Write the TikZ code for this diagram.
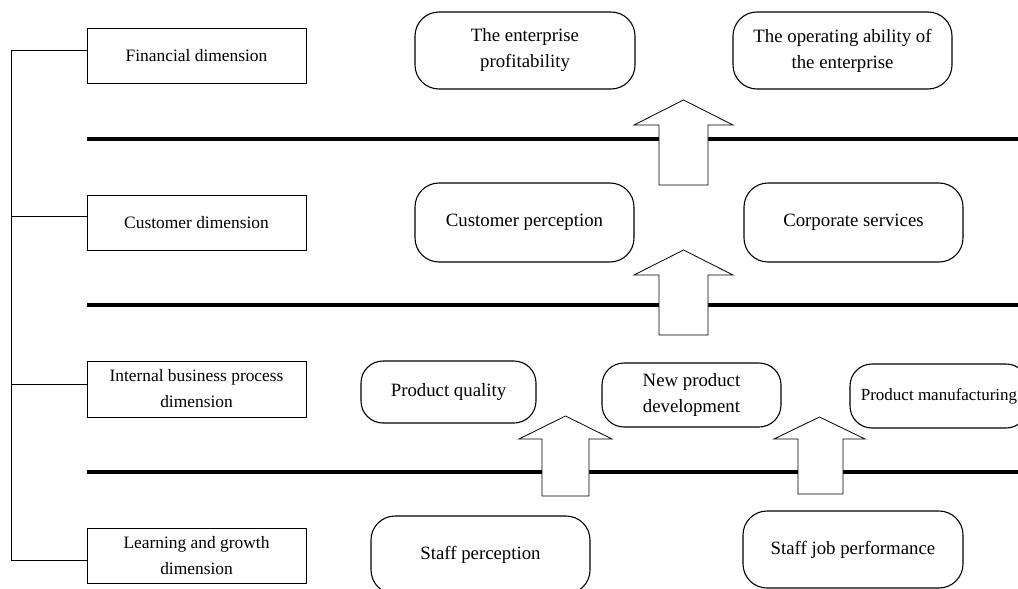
\documentclass[tikz,border=0pt]{standalone}
\usepackage{fontspec}
\setmainfont{Liberation Serif}
\begin{document}
\begin{tikzpicture}[x=1pt,y=-1pt]
\tikzset{
  dimbox/.style={draw, line width=0.8pt, minimum width=219pt, minimum height=55pt, inner sep=0pt, align=center, font=\fontsize{17.4}{26}\selectfont},
  rbox/.style={draw, line width=1.1pt, rounded corners=24pt, inner sep=0pt, align=center, font=\fontsize{18.8}{26}\selectfont},
  divider/.style={line width=4pt},
  treeline/.style={line width=0.8pt},
  blockarr/.style={draw, fill=white, line width=0.8pt}
}
\useasboundingbox (0,0) rectangle (1018,589);

% left dimension boxes
\node[dimbox] (fin)   at (196.5,55.5) {Financial dimension};
\node[dimbox] (cust)  at (196.5,222.5) {Customer dimension};
\node[dimbox, minimum height=56pt] (int) at (196.5,389) {Internal business process\\dimension};
\node[dimbox] (learn) at (196.5,555.5) {Learning and growth\\dimension};

% tree
\coordinate (t1) at (11,50);
\coordinate (t2) at (11,216);
\coordinate (t3) at (11,384);
\coordinate (t4) at (11,560);
\draw[treeline] (t1) -- (t4);
\draw[treeline] (t1) -- (t1 -| fin.west);
\draw[treeline] (t2) -- (t2 -| cust.west);
\draw[treeline] (t3) -- (t3 -| int.west);
\draw[treeline] (t4) -- (t4 -| learn.west);

% dividers
\coordinate (d1a) at (87,139);  \coordinate (d1b) at (1020,139);
\coordinate (d2a) at (87,305);  \coordinate (d2b) at (1020,305);
\coordinate (d3a) at (87,472);  \coordinate (d3b) at (1020,472);
\draw[divider] (d1a) -- (d1b);
\draw[divider] (d2a) -- (d2b);
\draw[divider] (d3a) -- (d3b);

% block arrows
\draw[blockarr] (659,185) -- (659,125) -- (634,125) -- (683.5,100) -- (733,125) -- (708,125) -- (708,185) -- cycle;
\draw[blockarr] (659,335) -- (659,275) -- (634,275) -- (683.5,250) -- (733,275) -- (708,275) -- (708,335) -- cycle;
\draw[blockarr] (542,496) -- (542,439) -- (519,439) -- (565.5,416) -- (612,439) -- (589,439) -- (589,496) -- cycle;
\draw[blockarr] (798,494) -- (798,439) -- (774,439) -- (819.5,417) -- (865,439) -- (843,439) -- (843,494) -- cycle;

% rounded boxes
\node[rbox, minimum width=220pt, minimum height=77pt] (prof) at (525,50.5) {The enterprise\\profitability};
\node[rbox, minimum width=219pt, minimum height=77pt] (oper) at (842.5,50.5) {The operating ability of\\the enterprise};
\node[rbox, minimum width=219pt, minimum height=79pt] (cperc) at (524.5,222.5) {Customer perception};
\node[rbox, minimum width=219pt, minimum height=79pt] (corp) at (853.5,222.5) {Corporate services};
\node[rbox, minimum width=175pt, minimum height=62pt, rounded corners=22pt] (qual) at (448.5,392) {Product quality};
\node[rbox, minimum width=179pt, minimum height=64pt, rounded corners=22pt] (newp) at (691.5,395) {New product\\development};
\node[rbox, minimum width=178pt, minimum height=64pt, rounded corners=22pt, font=\fontsize{17}{26}\selectfont] (manu) at (939,396) {Product manufacturing};
\node[rbox, minimum width=219pt, minimum height=78pt] (sperc) at (480.5,555) {Staff perception};
\node[rbox, minimum width=220pt, minimum height=77pt] (sjob) at (853,549.5) {Staff job performance};
\end{tikzpicture}
\end{document}
